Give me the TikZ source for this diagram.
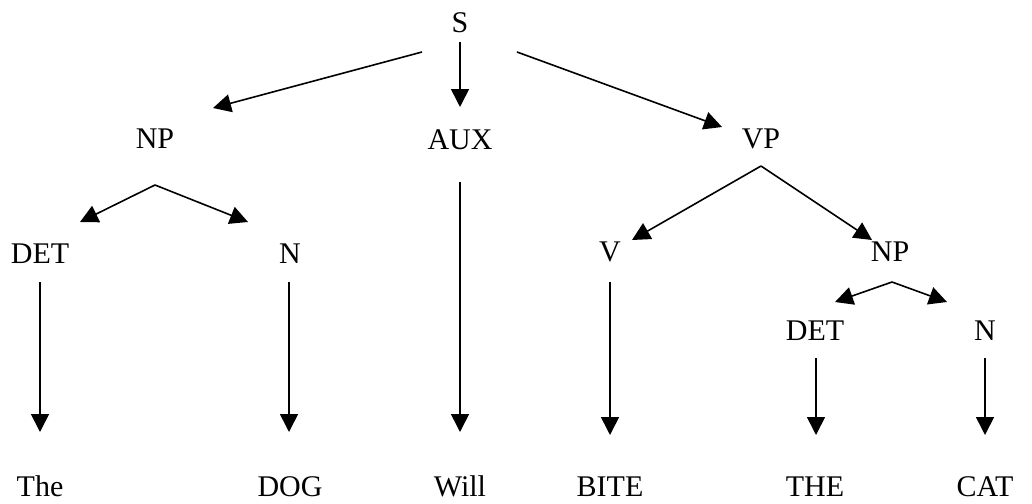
\documentclass[tikz,border=0pt]{standalone}
\usepackage{fontspec}
\setmainfont{Liberation Serif}
\usetikzlibrary{arrows.meta}

\tikzset{
  sym/.style={inner sep=0pt, text height=20pt, text depth=0pt, font=\fontsize{30}{33}\selectfont},
  arr/.style={-{Triangle[length=18pt,width=18pt]}, line width=1.6pt},
}

\begin{document}
\begin{tikzpicture}[x=1pt,y=-1pt]
                \useasboundingbox (0,0) rectangle (1032,503);
                % categories
                \node[sym] (S) at (460,23) {S};
                \node[sym] (NP) [node distance=115pt, below of=S, xshift=-305pt] {NP};
                \node[sym] (AUX) [node distance=116pt, below of=S] {AUX};
                \node[sym] (VP) [node distance=115pt, below of=S, xshift=301pt] {VP};
                \node[sym] (DET) [node distance=115pt, below of=NP, xshift=-115pt] {DET};
                \node[sym] (N) [node distance=115pt, below of=NP, xshift=135pt] {N};
                \node[sym] (V) [node distance=113pt, below of=VP, xshift=-151pt] {V};
                \node[sym] (NP2) [node distance=113pt, below of=VP, xshift=129pt] {NP};
                \node[sym] (DET2) [node distance=79pt, below of=NP2, xshift=-75pt] {DET};
                \node[sym] (N2) [node distance=79pt, below of=NP2, xshift=95pt] {N};
                % words
                \node[sym] (the) [node distance=233pt, below of=DET] {The};
                \node[sym] (dog) [node distance=233pt, below of=N] {DOG};
                \node[sym] (will) [node distance=347pt, below of=AUX] {Will};
                \node[sym] (bite) [node distance=235pt, below of=V] {BITE};
                \node[sym] (the2) [node distance=156pt, below of=DET2] {THE};
                \node[sym] (cat) [node distance=156pt, below of=N2] {CAT};
                % branches
                \draw[arr] ([shift={(-38,29)}]S.center) -- ([shift={(58,-30)}]NP.center);
                \draw[arr] ([shift={(0,19)}]S.center) -- ([shift={(0,-32)}]AUX.center);
                \draw[arr] ([shift={(57,29)}]S.center) -- ([shift={(-39,-11)}]VP.center);
                \draw[arr] ([shift={(0,47)}]NP.center) -- ([shift={(40,-31)}]DET.center);
                \draw[arr] ([shift={(0,47)}]NP.center) -- ([shift={(-42,-31)}]N.center);
                \draw[arr] ([shift={(0,28)}]VP.center) -- ([shift={(22,-11)}]V.center);
                \draw[arr] ([shift={(0,28)}]VP.center) -- ([shift={(-18,-11)}]NP2.center);
                \draw[arr] ([shift={(2,31)}]NP2.center) -- ([shift={(20,-28)}]DET2.center);
                \draw[arr] ([shift={(2,31)}]NP2.center) -- ([shift={(-38,-28)}]N2.center);
                % leaves
                \draw[arr] ([shift={(0,29)}]DET.center) -- ([shift={(0,-54)}]the.center);
                \draw[arr] ([shift={(-1,29)}]N.center) -- ([shift={(-1,-54)}]dog.center);
                \draw[arr] ([shift={(0,43)}]AUX.center) -- ([shift={(0,-54)}]will.center);
                \draw[arr] ([shift={(0,31)}]V.center) -- ([shift={(0,-51)}]bite.center);
                \draw[arr] ([shift={(1,28)}]DET2.center) -- ([shift={(1,-51)}]the2.center);
                \draw[arr] ([shift={(0,28)}]N2.center) -- ([shift={(0,-51)}]cat.center);
            \end{tikzpicture}
\end{document}
